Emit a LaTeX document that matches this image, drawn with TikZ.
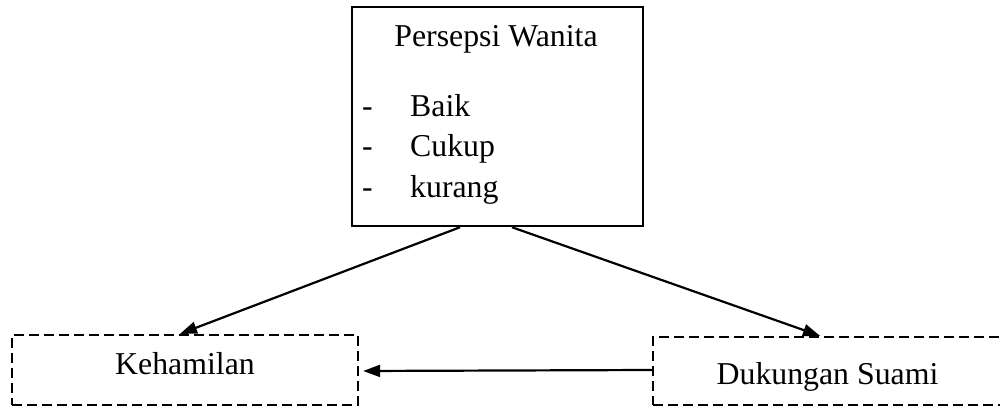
\documentclass[tikz,border=0pt]{standalone}
\usepackage{fontspec}
\setmainfont{Liberation Serif}
\usetikzlibrary{arrows.meta}
\begin{document}
\begin{tikzpicture}[x=1pt,y=1pt,
  txt/.style={font=\fontsize{31.8}{38}\selectfont, inner sep=0pt, anchor=base},
  solidbox/.style={draw, line width=2.5pt, minimum width=291pt, minimum height=219pt, inner sep=0pt},
  dashbox/.style={draw, line width=2.3pt, dash pattern=on 10pt off 5pt, inner sep=0pt},
  arr/.style={line width=2.2pt, -{Triangle[length=17pt,width=12pt]}}
]
\useasboundingbox (0,0) rectangle (1000,406);
% boxes
\node[solidbox] (top) at (497.5,289.5) {};
\node[dashbox, minimum width=346pt, minimum height=70pt] (keh) at (185,36) {};
\node[dashbox, minimum width=349pt, minimum height=68pt] (duk) at (827.5,35) {};
% texts
\node[txt] (title) at (496,359) {Persepsi Wanita};
\node[txt, anchor=base west] (d1) at (362,289) {-};
\node[txt, anchor=base west] (t1) at (410,289) {Baik};
\node[txt, anchor=base west] (d2) at (362,249) {-};
\node[txt, anchor=base west] (t2) at (410,249) {Cukup};
\node[txt, anchor=base west] (d3) at (362,208) {-};
\node[txt, anchor=base west] (t3) at (410,208) {kurang};
\node[txt] (kehtxt) at (185,31) {Kehamilan};
\node[txt] (duktxt) at (827.5,21) {Dukungan Suami};
% connector endpoints
\coordinate (s1) at ([xshift=-37.5pt]top.south);
\coordinate (s2) at ([xshift=14.5pt]top.south);
\coordinate (e1) at ([xshift=-5pt]keh.north);
\coordinate (e2) at ([xshift=-7.5pt]duk.north);
\coordinate (h1) at ([yshift=1pt]duk.west);
\coordinate (h2) at ([xshift=4pt,yshift=-1pt]keh.east);
% connectors
\draw[arr] (s1) -- (e1);
\draw[arr] (s2) -- (e2);
\draw[arr] (h1) -- (h2);
\end{tikzpicture}
\end{document}
